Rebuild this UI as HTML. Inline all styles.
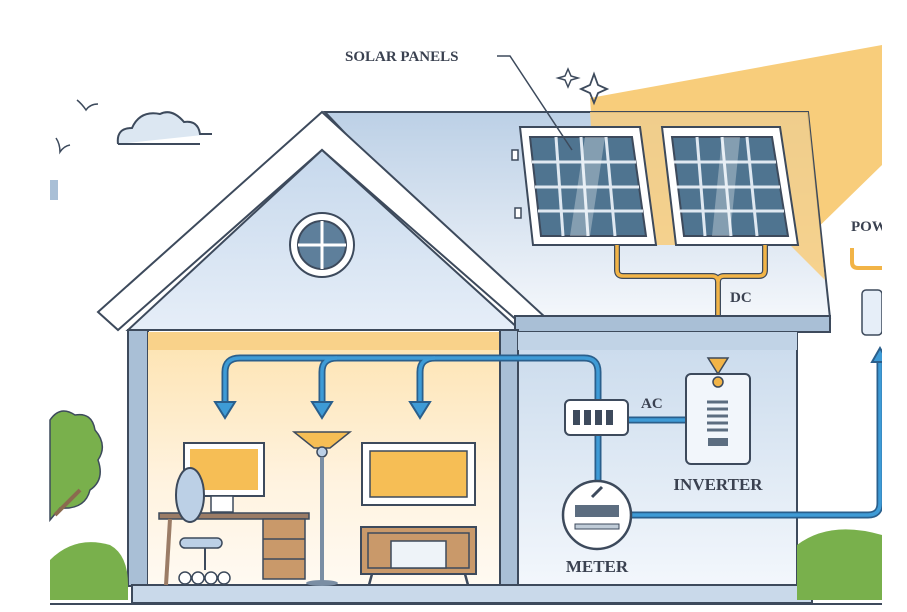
<!DOCTYPE html>
<html><head><meta charset="utf-8"><style>
html,body{margin:0;padding:0;background:#fff;}
svg{display:block;}
text{font-family:"Liberation Serif",serif;font-weight:bold;fill:#3a4150;}
</style></head><body>
<svg width="907" height="612" viewBox="0 0 907 612" xmlns="http://www.w3.org/2000/svg">
<defs>
<linearGradient id="room" x1="0" y1="0" x2="0" y2="1">
<stop offset="0" stop-color="#fde3b0"/><stop offset="0.6" stop-color="#fff3e0"/><stop offset="1" stop-color="#fffaf2"/></linearGradient>
<linearGradient id="rt" x1="0" y1="0" x2="0" y2="1">
<stop offset="0" stop-color="#c9daec"/><stop offset="1" stop-color="#f3f7fc"/></linearGradient>
<linearGradient id="gab" x1="0" y1="0" x2="0" y2="1">
<stop offset="0" stop-color="#c6d8ec"/><stop offset="1" stop-color="#e6eef8"/></linearGradient>
<linearGradient id="roofr" x1="0" y1="0" x2="0" y2="1">
<stop offset="0" stop-color="#bcd0e6"/><stop offset="1" stop-color="#f4f7fb"/></linearGradient>
</defs>
<rect width="907" height="612" fill="#fff"/>
<!-- sun beam -->
<polygon points="590,98 882,45 882,165 800,245 600,245" fill="#f8cd7b"/>
<!-- right roof -->
<polygon points="325,112 808,112 830,318 520,318" fill="url(#roofr)" stroke="#3d4a5c" stroke-width="2"/>
<polygon points="590,112 808,112 825,280 790,245 600,245" fill="#f8cd7b" opacity="0.85"/>
<!-- panels -->
<g stroke="#3d4a5c" stroke-width="2">
<polygon points="520,127 640,127 656,245 533,245" fill="#fff"/>
<polygon points="530,137 632,137 646,236 541,236" fill="#4f7490"/>
<polygon points="662,127 780,127 798,245 676,245" fill="#fff"/>
<polygon points="672,137 772,137 788,236 684,236" fill="#4f7490"/>
</g>
<g stroke="#dfe8f1" stroke-width="3" fill="none">
<line x1="532" y1="162" x2="636" y2="162"/><line x1="535" y1="187" x2="639" y2="187"/><line x1="538" y1="211" x2="643" y2="211"/>
<line x1="556" y1="137" x2="563" y2="236"/><line x1="581" y1="137" x2="588" y2="236"/><line x1="606" y1="137" x2="615" y2="236"/>
<line x1="674" y1="162" x2="776" y2="162"/><line x1="677" y1="187" x2="780" y2="187"/><line x1="680" y1="211" x2="784" y2="211"/>
<line x1="697" y1="137" x2="705" y2="236"/><line x1="722" y1="137" x2="731" y2="236"/><line x1="747" y1="137" x2="757" y2="236"/>
</g>
<polygon points="585,137 605,137 590,236 570,236" fill="#fff" opacity="0.3"/>
<polygon points="722,137 740,137 730,236 712,236" fill="#fff" opacity="0.3"/>
<rect x="512" y="150" width="6" height="10" fill="#fff" stroke="#3d4a5c" stroke-width="1.5"/>
<rect x="515" y="208" width="6" height="10" fill="#fff" stroke="#3d4a5c" stroke-width="1.5"/>
<!-- DC wire -->
<path d="M617,245 V270 Q617,276 623,276 H712 Q718,276 718,282 V358 M765,245 V270 Q765,276 759,276 H724 Q718,276 718,282" fill="none" stroke="#3d4a5c" stroke-width="6"/>
<path d="M617,245 V270 Q617,276 623,276 H712 Q718,276 718,282 V358 M765,245 V270 Q765,276 759,276 H724 Q718,276 718,282" fill="none" stroke="#f2b447" stroke-width="3.5"/>
<text x="730" y="302" font-size="15">DC</text>
<!-- gable -->
<polygon points="322,112 98,312 118,330 322,150 528,330 546,318" fill="#fff" stroke="#3d4a5c" stroke-width="2"/>
<polygon points="322,150 128,330 520,330" fill="url(#gab)" stroke="#3d4a5c" stroke-width="2"/>
<circle cx="322" cy="245" r="32" fill="#fff" stroke="#3d4a5c" stroke-width="2"/>
<circle cx="322" cy="245" r="24" fill="#5e7f9b" stroke="#3d4a5c" stroke-width="2"/>
<path d="M298,245 H346 M322,221 V269" stroke="#fff" stroke-width="3"/>
<!-- eave -->
<rect x="515" y="316" width="315" height="16" fill="#a9bfd6" stroke="#3d4a5c" stroke-width="2"/>
<!-- walls -->
<rect x="128" y="330" width="20" height="256" fill="#a9bfd6" stroke="#3d4a5c" stroke-width="2"/>
<rect x="148" y="332" width="352" height="254" fill="url(#room)"/>
<rect x="148" y="332" width="352" height="18" fill="#f9d28a"/>
<rect x="500" y="330" width="18" height="256" fill="#a9bfd6" stroke="#3d4a5c" stroke-width="2"/>
<rect x="518" y="332" width="279" height="254" fill="url(#rt)" stroke="#3d4a5c" stroke-width="2"/>
<rect x="518" y="332" width="279" height="18" fill="#c1d3e6"/>
<rect x="132" y="585" width="680" height="18" fill="#c9d9ea" stroke="#3d4a5c" stroke-width="2"/>
<line x1="50" y1="604" x2="882" y2="604" stroke="#3d4a5c" stroke-width="2"/>
<!-- blue pipes -->
<g fill="none" stroke="#2a5f8c" stroke-width="7" stroke-linejoin="round">
<path d="M225,405 V372 Q225,358 240,358 H584 Q598,358 598,372 V402"/>
<path d="M322,405 V372 Q322,358 337,358"/><path d="M420,405 V372 Q420,358 435,358"/>
<path d="M598,435 V482"/><path d="M628,420 H687"/>
<path d="M632,515 H868 Q880,515 880,503 V360"/>
</g>
<g fill="none" stroke="#3e9bd6" stroke-width="3.5" stroke-linejoin="round">
<path d="M225,405 V372 Q225,358 240,358 H584 Q598,358 598,372 V402"/>
<path d="M322,405 V372 Q322,358 337,358"/><path d="M420,405 V372 Q420,358 435,358"/>
<path d="M598,435 V482"/><path d="M628,420 H687"/>
<path d="M632,515 H868 Q880,515 880,503 V360"/>
</g>
<g fill="#3e9bd6" stroke="#2a5f8c" stroke-width="2">
<polygon points="215,402 235,402 225,418"/><polygon points="312,402 332,402 322,418"/><polygon points="410,402 430,402 420,418"/>
<polygon points="872,362 888,362 880,348"/>
</g>
<!-- breaker -->
<rect x="565" y="400" width="63" height="35" rx="5" fill="#fff" stroke="#3d4a5c" stroke-width="2"/>
<g fill="#3d4a5c"><rect x="573" y="410" width="7" height="15"/><rect x="584" y="410" width="7" height="15"/><rect x="595" y="410" width="7" height="15"/><rect x="606" y="410" width="7" height="15"/></g>
<text x="641" y="408" font-size="15">AC</text>
<!-- inverter -->
<rect x="686" y="374" width="64" height="90" rx="5" fill="#f2f6fb" stroke="#3d4a5c" stroke-width="2"/>
<g stroke="#5c6d80" stroke-width="3"><line x1="707" y1="402" x2="728" y2="402"/><line x1="707" y1="409" x2="728" y2="409"/><line x1="707" y1="416" x2="728" y2="416"/><line x1="707" y1="423" x2="728" y2="423"/><line x1="707" y1="430" x2="728" y2="430"/></g>
<rect x="708" y="438" width="20" height="8" fill="#5c6d80"/>
<polygon points="708,358 728,358 718,374" fill="#f2b447" stroke="#3d4a5c" stroke-width="1.5"/>
<circle cx="718" cy="382" r="5" fill="#f2b447" stroke="#3d4a5c" stroke-width="1.5"/>
<text x="718" y="490" font-size="17" text-anchor="middle">INVERTER</text>
<!-- meter -->
<circle cx="597" cy="515" r="34" fill="#fff" stroke="#3d4a5c" stroke-width="2.5"/>
<rect x="575" y="505" width="44" height="12" fill="#5c6d80"/>
<rect x="575" y="524" width="44" height="5" fill="#c0ccd8" stroke="#3d4a5c" stroke-width="1"/>
<path d="M592,497 L602,487" stroke="#3d4a5c" stroke-width="3"/>
<text x="597" y="572" font-size="17" text-anchor="middle">METER</text>
<!-- interior -->
<rect x="184" y="443" width="80" height="53" fill="#fff" stroke="#3d4a5c" stroke-width="2"/>
<rect x="190" y="449" width="68" height="41" fill="#f6be55"/>
<rect x="211" y="496" width="22" height="16" fill="#fff" stroke="#3d4a5c" stroke-width="1.5"/>
<rect x="159" y="513" width="150" height="6" fill="#9b7c66" stroke="#3d4a5c" stroke-width="1.5"/>
<line x1="170" y1="519" x2="166" y2="585" stroke="#9b7c66" stroke-width="4"/>
<rect x="263" y="519" width="42" height="60" fill="#c9996a" stroke="#3d4a5c" stroke-width="1.5"/>
<path d="M263,539 H305 M263,559 H305" stroke="#3d4a5c" stroke-width="1.5"/>
<ellipse cx="190" cy="495" rx="14" ry="27" fill="#bcd0e6" stroke="#3d4a5c" stroke-width="2"/>
<rect x="180" y="538" width="42" height="10" rx="5" fill="#bcd0e6" stroke="#3d4a5c" stroke-width="1.5"/>
<line x1="205" y1="548" x2="205" y2="570" stroke="#3d4a5c" stroke-width="2"/>
<g fill="#fff" stroke="#3d4a5c" stroke-width="1.5"><circle cx="185" cy="578" r="6"/><circle cx="198" cy="578" r="6"/><circle cx="211" cy="578" r="6"/><circle cx="224" cy="578" r="6"/></g>
<polygon points="294,432 350,432 330,448 314,448" fill="#f6be55" stroke="#3d4a5c" stroke-width="1.5"/>
<circle cx="322" cy="452" r="5" fill="#bcd0e6" stroke="#3d4a5c" stroke-width="1.5"/>
<line x1="322" y1="457" x2="322" y2="582" stroke="#7a8ea4" stroke-width="4"/>
<ellipse cx="322" cy="583" rx="16" ry="3" fill="#7a8ea4"/>
<rect x="362" y="443" width="113" height="62" fill="#fff" stroke="#3d4a5c" stroke-width="2"/>
<rect x="370" y="451" width="97" height="46" fill="#f6be55" stroke="#3d4a5c" stroke-width="1.5"/>
<rect x="361" y="527" width="115" height="47" fill="#c9996a" stroke="#3d4a5c" stroke-width="2"/>
<rect x="368" y="533" width="101" height="35" fill="none" stroke="#3d4a5c" stroke-width="1.5"/>
<rect x="391" y="541" width="55" height="27" fill="#eef3f8" stroke="#3d4a5c" stroke-width="1.5"/>
<path d="M372,574 L369,585 M465,574 L468,585" stroke="#3d4a5c" stroke-width="2.5"/>
<!-- sky items -->
<text x="345" y="61" font-size="15">SOLAR PANELS</text>
<path d="M497,56 H510 L572,150" fill="none" stroke="#3d4a5c" stroke-width="1.5"/>
<path d="M568,69 L571,76 L578,78 L571,80 L568,87 L565,80 L558,78 L565,76 Z" fill="none" stroke="#3d4a5c" stroke-width="1.5"/>
<path d="M594,74 L598,85 L607,89 L598,93 L594,103 L590,93 L581,89 L590,85 Z" fill="none" stroke="#3d4a5c" stroke-width="1.8"/>
<path d="M118,144 Q116,128 132,128 Q140,110 160,114 Q172,108 184,122 Q198,120 200,134 H212" fill="#dce7f2" stroke="#3d4a5c" stroke-width="2"/>
<path d="M118,144 H200" stroke="#3d4a5c" stroke-width="2"/>
<path d="M77,100 Q82,104 86,110 Q90,104 98,104" fill="none" stroke="#3d4a5c" stroke-width="1.5"/>
<path d="M56,138 Q60,144 60,152 Q64,146 70,145" fill="none" stroke="#3d4a5c" stroke-width="1.5"/>
<rect x="50" y="180" width="8" height="20" fill="#a9bfd6"/>
<text x="851" y="231" font-size="15">POW</text>
<path d="M852,248 V262 Q852,268 858,268 H882" fill="none" stroke="#f2b447" stroke-width="4"/>
<rect x="862" y="290" width="20" height="45" rx="4" fill="#e6eef8" stroke="#3d4a5c" stroke-width="1.5"/>
<!-- greenery -->
<path d="M50,420 Q60,405 75,415 Q92,412 95,430 Q108,445 98,460 Q105,480 90,490 Q85,510 60,508 L50,520 Z" fill="#79b04c" stroke="#3d4a5c" stroke-width="1.5"/>
<path d="M55,515 L80,490" stroke="#8a6b4f" stroke-width="4"/>
<path d="M50,600 V560 Q75,535 110,545 Q128,555 128,585 V600 Z" fill="#79b04c"/>
<path d="M797,600 V545 Q830,520 882,535 V600 Z" fill="#79b04c"/>
<rect x="882" y="0" width="25" height="612" fill="#fff"/>
</svg>
</body></html>
